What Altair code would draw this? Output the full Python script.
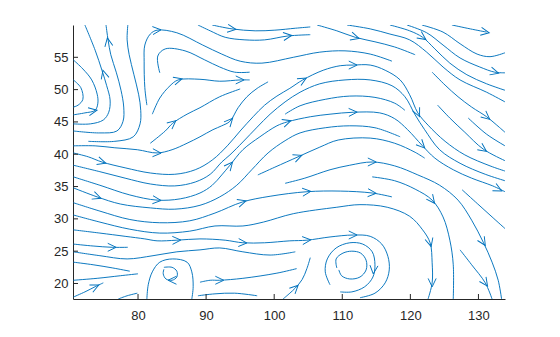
import altair as alt
import pandas as pd

BLUE = "#0072BD"
AXC = "#262626"
X_MIN, X_MAX = 70.45, 133.9
Y_MIN, Y_MAX = 17.6, 60.0
X_TICKS = [80, 90, 100, 110, 120, 130]
Y_TICKS = [20, 25, 30, 35, 40, 45, 50, 55]

# ---- streamlines (longitude x, latitude y) ----
S01_X = [70.5, 71.6, 71.9, 71.2, 70.5]
S01_Y = [51.5, 50.3, 48.5, 47.6, 47.3]
S02_X = [70.5, 72.2, 73.7, 74.1, 74.0, 73.2, 71.9, 70.5]
S02_Y = [46.1, 46.4, 46.8, 47.9, 49.3, 51.5, 53.2, 54.6]
S03_X = [70.5, 73.0, 74.9, 75.7, 75.9, 75.4, 74.7, 73.7, 72.2]
S03_Y = [44.7, 44.7, 45.3, 46.5, 48.4, 50.6, 53.0, 56.1, 60.0]
S04_X = [70.5, 74.4, 76.9, 77.8, 77.9, 77.5, 76.8, 76.0, 75.6, 75.3]
S04_Y = [43.6, 43.3, 43.6, 45.1, 47.3, 49.9, 52.7, 55.4, 57.7, 60.0]
S05_X = [72.7, 76.6, 79.3, 80.3, 80.4, 80.1, 79.4, 78.7, 78.4, 78.5]
S05_Y = [42.0, 42.0, 42.7, 44.7, 46.8, 49.2, 52.3, 55.4, 57.7, 60.0]
S06_X = [81.3, 81.0, 80.9, 81.0, 81.8, 82.8, 85.7, 89.5, 92.3, 95.0, 98.2, 102.8, 106.7, 110.4, 114.1, 117.3]
S06_Y = [47.6, 50.3, 54.3, 56.9, 58.6, 59.2, 58.8, 56.9, 55.5, 54.4, 54.1, 55.0, 55.8, 56.0, 55.5, 54.4]
S07_X = [83.2, 82.9, 84.0, 86.9, 89.8, 92.0, 94.2, 96.4]
S07_Y = [52.6, 55.2, 56.3, 56.0, 54.6, 53.5, 52.7, 52.7]
S08_X = [82.1, 83.2, 84.7, 85.9, 89.1, 92.0, 95.0, 96.4]
S08_Y = [46.2, 48.7, 50.6, 51.5, 51.6, 51.3, 51.5, 51.5]
S09_X = [81.8, 84.0, 85.1, 87.2, 89.1, 92.0, 95.0]
S09_Y = [41.7, 43.6, 44.8, 46.2, 47.2, 48.9, 50.1]
S10_X = [70.5, 73.7, 76.6, 79.9, 82.8, 85.0, 87.2, 89.1, 91.0, 92.3, 93.5, 94.7, 96.0, 97.5, 99.1]
S10_Y = [41.3, 41.3, 41.0, 40.7, 40.2, 40.7, 41.7, 42.7, 43.8, 44.4, 45.1, 47.2, 48.9, 50.2, 51.2]
S11_X = [90.9, 93.8, 97.2, 100.1, 103.1, 105.3]
S11_Y = [60.0, 59.4, 59.1, 59.2, 59.5, 59.7]
S12_X = [88.8, 90.6, 92.8, 95.7, 98.6, 102.0, 105.3]
S12_Y = [60.0, 59.1, 58.1, 57.7, 57.7, 58.3, 58.5]
S13_X = [106.3, 109.2, 111.9, 114.8, 117.7, 120.7]
S13_Y = [60.0, 59.1, 58.1, 57.4, 56.6, 55.4]
S14_X = [110.7, 114.1, 117.0, 119.9, 122.4, 124.8, 127.3, 131.2, 133.9]
S14_Y = [60.0, 59.4, 58.6, 57.7, 55.8, 53.5, 51.5, 49.6, 48.1]
S15_X = [117.0, 119.9, 121.8, 123.6, 125.8, 128.3, 131.2, 133.9]
S15_Y = [60.0, 59.1, 58.1, 56.3, 54.1, 52.3, 50.9, 49.9]
S16_X = [119.5, 122.4, 124.8, 127.3, 130.2, 132.4, 133.9]
S16_Y = [60.0, 58.8, 56.9, 54.9, 53.5, 52.7, 52.6]
S17_X = [121.7, 124.8, 127.3, 129.8, 131.7, 133.9]
S17_Y = [60.0, 58.9, 57.1, 55.5, 55.1, 55.7]
S18_X = [126.1, 128.8, 131.2]
S18_Y = [60.0, 59.4, 58.9]
S19_X = [123.2, 125.1, 127.0, 129.0, 131.2, 132.7, 133.9]
S19_Y = [52.7, 50.7, 48.9, 47.3, 45.8, 44.5, 43.4]
S20_X = [124.0, 125.8, 128.0, 130.7, 133.9]
S20_Y = [47.6, 45.6, 43.4, 40.8, 39.0]
S21_X = [128.5, 131.2, 133.9]
S21_Y = [45.6, 43.1, 41.3]
S22_X = [70.5, 72.7, 74.7, 78.1, 81.8, 85.4, 88.4, 90.9, 93.2, 95.0, 96.9, 98.6, 100.4, 102.3, 104.2, 107.2,
         109.7, 111.6, 114.1, 116.3, 118.5, 119.9, 121.1, 122.6, 125.1, 128.0, 131.7, 133.9]
S22_Y = [40.2, 39.6, 38.8, 37.9, 37.1, 36.9, 37.6, 39.1, 41.4, 43.6, 45.8, 47.6, 49.0, 50.2, 51.5, 53.0,
         53.7, 53.8, 53.8, 53.0, 51.5, 49.2, 46.4, 44.5, 42.0, 39.9, 38.2, 37.4]
S23_X = [70.5, 74.4, 78.1, 81.8, 85.4, 88.4, 90.6, 92.3, 93.5, 95.4, 97.5, 99.4, 101.6, 103.8, 106.7, 110.4,
         114.1, 117.3, 119.2, 120.7, 122.1, 124.3, 127.3, 131.0, 133.9]
S23_Y = [38.3, 37.3, 36.3, 35.4, 35.1, 35.7, 36.9, 38.8, 39.9, 41.9, 44.2, 46.2, 48.1, 49.6, 50.9, 51.5,
         51.5, 50.6, 48.9, 46.1, 43.8, 40.7, 38.6, 36.9, 35.9]
S24_X = [70.5, 74.4, 78.8, 82.8, 86.2, 89.1, 90.9, 92.3, 93.5, 95.4, 97.9, 100.4, 101.9, 105.3, 108.2, 111.6,
         115.5, 117.7, 119.6, 121.7, 123.6, 126.3, 129.0, 132.1, 133.9]
S24_Y = [36.5, 35.2, 33.7, 32.9, 33.1, 34.0, 35.2, 36.8, 38.3, 40.7, 42.7, 44.4, 45.0, 45.8, 46.2, 46.5,
         46.4, 45.5, 43.8, 41.4, 39.4, 37.6, 36.3, 35.1, 34.2]
S25_X = [101.6, 103.8, 107.5, 111.1, 114.8, 117.7, 119.2]
S25_Y = [46.2, 47.5, 48.5, 49.0, 48.8, 47.9, 46.8]
S26_X = [70.5, 74.0, 77.4, 81.8, 85.4, 89.1, 92.0, 94.5, 96.7, 99.1, 101.6, 103.8, 107.5, 111.1, 114.8, 118.5]
S26_Y = [34.8, 33.4, 32.3, 31.7, 31.5, 32.1, 33.4, 35.2, 37.6, 40.2, 42.1, 43.3, 44.1, 44.4, 44.1, 42.7]
S27_X = [97.6, 100.1, 103.5, 106.7, 109.4, 114.1, 117.7, 120.7, 122.1]
S27_Y = [36.8, 38.0, 39.6, 41.1, 42.2, 42.5, 41.7, 40.3, 39.4]
S28_X = [101.6, 104.5, 108.2, 111.1, 114.4, 117.7, 121.1, 124.3, 127.0, 129.0, 130.7, 132.0, 132.9, 133.4]
S28_Y = [35.5, 36.3, 37.6, 38.3, 38.8, 38.2, 36.8, 35.2, 32.9, 29.8, 26.4, 23.3, 20.5, 17.6]
S29_X = [70.5, 74.4, 78.8, 83.2, 87.6, 91.3, 95.3, 99.4, 104.8, 109.7, 114.4, 117.3]
S29_Y = [32.5, 31.2, 29.9, 29.4, 29.7, 30.9, 32.6, 33.5, 34.2, 34.3, 34.0, 33.4]
S30_X = [70.5, 74.4, 78.8, 83.2, 87.6, 91.3, 95.4, 98.4, 102.8, 109.2, 112.6, 116.6, 119.9, 121.8, 122.9,
         123.2, 123.2, 122.6]
S30_Y = [30.6, 29.5, 28.4, 27.8, 28.1, 28.9, 28.9, 29.5, 30.8, 31.8, 32.2, 31.8, 30.4, 28.3, 26.3,
         23.2, 20.1, 17.6]
S31_X = [114.4, 117.7, 120.7, 123.2, 124.8, 125.8, 126.3, 126.3]
S31_Y = [36.5, 35.9, 34.6, 32.9, 30.3, 26.7, 22.9, 17.6]
S32_X = [127.6, 129.9, 132.0, 133.9]
S32_Y = [34.5, 32.3, 30.3, 28.5]
S33_X = [127.3, 129.0, 131.0, 132.0]
S33_Y = [25.2, 22.9, 20.1, 17.6]
S34_X = [70.5, 74.4, 78.1, 81.0, 82.8, 85.7, 89.1, 92.8, 95.4, 98.6, 102.3, 104.8, 108.2, 111.6, 114.1,
         115.8, 116.7, 116.9, 116.3, 114.8, 112.6]
S34_Y = [28.3, 27.8, 27.3, 26.9, 26.6, 26.7, 26.9, 26.7, 26.3, 26.3, 26.6, 26.7, 27.2, 27.5, 27.3,
         26.1, 24.2, 22.1, 20.1, 18.5, 17.8]
S35_X = [70.5, 73.4, 76.2, 78.5]
S35_Y = [26.1, 25.8, 25.6, 25.6]
S36_X = [70.5, 74.4, 78.4, 82.2, 85.7, 89.1, 92.0, 95.4, 99.4, 103.1]
S36_Y = [24.9, 24.3, 23.8, 24.3, 24.9, 25.2, 25.5, 24.9, 24.4, 24.9]
S37_X = [70.5, 73.4, 76.3, 78.8]
S37_Y = [23.3, 22.9, 22.4, 21.9]
S38_X = [70.5, 74.0, 77.4, 80.0]
S38_Y = [20.5, 20.8, 21.2, 21.5]
S39_X = [70.5, 72.2, 73.7, 74.9]
S39_Y = [17.9, 18.7, 19.5, 20.1]
S40_X = [77.1, 78.4, 79.9]
S40_Y = [17.6, 18.1, 18.5]
S41_X = [81.3, 81.5, 82.1, 83.2, 85.1, 87.2, 87.9, 88.1, 87.9]
S41_Y = [17.6, 19.8, 21.8, 23.3, 23.8, 23.3, 21.8, 19.5, 17.6]
S42_X = [83.8, 85.0, 85.7, 85.7, 85.0, 84.1, 83.7, 83.8]
S42_Y = [22.5, 22.5, 21.9, 21.0, 20.5, 20.7, 21.5, 22.2]
S43_X = [88.8, 91.3, 94.2, 97.5]
S43_Y = [18.1, 18.4, 18.5, 18.1]
S44_X = [89.1, 90.6, 92.0, 95.4, 100.4, 103.3]
S44_Y = [20.2, 20.5, 20.5, 20.8, 21.6, 22.3]
S45_X = [101.3, 102.3, 103.1, 104.1, 104.8, 105.3]
S45_Y = [17.6, 18.5, 19.3, 20.6, 22.3, 24.0]
S46_X = [109.2, 109.1, 110.1, 111.4, 112.7, 113.5, 113.5, 112.6, 111.1, 109.9, 109.5]
S46_Y = [22.4, 23.8, 24.7, 25.0, 24.7, 23.6, 22.1, 21.0, 20.7, 21.2, 22.1]
S47_X = [108.2, 107.5, 107.8, 109.1, 111.1, 113.0, 114.4, 114.8, 114.5, 113.3, 111.4, 109.7]
S47_Y = [19.8, 21.8, 23.8, 25.5, 26.3, 26.1, 24.9, 22.9, 21.0, 19.5, 18.7, 18.7]

# ---- arrowheads: position and flow direction (screen degrees, clockwise from east) ----
ARROW_X = [73.4, 75.0, 75.6, 82.8, 85.9, 85.1, 82.8, 74.7, 74.0, 82.8, 93.8, 102.0, 111.9, 95.0, 104.2, 111.6,
           121.8, 131.0, 132.4, 121.1, 93.5, 101.9, 111.6, 93.5, 103.5, 104.8, 95.3, 131.2, 121.7, 130.7, 114.4,
           132.9, 114.4, 123.2, 76.2, 85.7, 73.7, 85.0, 95.4, 104.8, 111.6, 92.0, 103.1, 122.9, 114.6, 123.2,
           130.7, 131.0]
ARROW_Y = [46.7, 52.4, 57.4, 59.2, 51.5, 44.8, 40.2, 38.8, 33.4, 32.9, 59.4, 58.3, 58.1, 51.5, 51.5, 53.8,
           58.1, 58.9, 52.7, 46.4, 45.1, 45.0, 46.5, 38.3, 39.6, 34.2, 32.6, 45.8, 41.4, 40.8, 38.8,
           34.6, 34.0, 32.9, 25.6, 26.7, 19.5, 20.5, 26.3, 26.7, 27.5, 20.5, 19.3, 26.3, 22.1, 20.1,
           26.4, 20.1]
ARROW_DIR = [350, 255, 260, 355, 345, 320, 3, 17, 20, 5, 8, 353, 16, 0, 330, 0,
             35, 10, 15, 65, 312, 342, 358, 310, 338, 354, 343, 40, 46, 35, 0,
             27, 4, 52, 0, 358, 335, 180, 3, 355, 0, 0, 315, 75, 95, 90,
             58, 55]

STREAMS = [
    (S01_X, S01_Y), (S02_X, S02_Y), (S03_X, S03_Y), (S04_X, S04_Y), (S05_X, S05_Y), (S06_X, S06_Y),
    (S07_X, S07_Y), (S08_X, S08_Y), (S09_X, S09_Y), (S10_X, S10_Y), (S11_X, S11_Y), (S12_X, S12_Y),
    (S13_X, S13_Y), (S14_X, S14_Y), (S15_X, S15_Y), (S16_X, S16_Y), (S17_X, S17_Y), (S18_X, S18_Y),
    (S19_X, S19_Y), (S20_X, S20_Y), (S21_X, S21_Y), (S22_X, S22_Y), (S23_X, S23_Y), (S24_X, S24_Y),
    (S25_X, S25_Y), (S26_X, S26_Y), (S27_X, S27_Y), (S28_X, S28_Y), (S29_X, S29_Y), (S30_X, S30_Y),
    (S31_X, S31_Y), (S32_X, S32_Y), (S33_X, S33_Y), (S34_X, S34_Y), (S35_X, S35_Y), (S36_X, S36_Y),
    (S37_X, S37_Y), (S38_X, S38_Y), (S39_X, S39_Y), (S40_X, S40_Y), (S41_X, S41_Y), (S42_X, S42_Y),
    (S43_X, S43_Y), (S44_X, S44_Y), (S45_X, S45_Y), (S46_X, S46_Y), (S47_X, S47_Y),
]

rows = []
for k, (xs, ys) in enumerate(STREAMS):
    for i, (x, y) in enumerate(zip(xs, ys)):
        rows.append({"line": k, "i": i, "x": x, "y": y})
lines_df = pd.DataFrame(rows)
arrows_df = pd.DataFrame({"x": ARROW_X, "y": ARROW_Y, "a": ARROW_DIR})
xt_df = pd.DataFrame({"x": X_TICKS})
yt_df = pd.DataFrame({"y": Y_TICKS})

xscale = alt.Scale(domain=[X_MIN, X_MAX], nice=False, zero=False)
yscale = alt.Scale(domain=[Y_MIN, Y_MAX], nice=False, zero=False)

x_axis = alt.Axis(values=X_TICKS, title="", grid=False, ticks=False, tickSize=0, labelPadding=10,
                  domainColor=AXC, domainWidth=1, labelColor=AXC, labelFontSize=13,
                  labelFont="Liberation Sans", format="d")
y_axis = alt.Axis(values=Y_TICKS, title="", grid=False, ticks=False, tickSize=0, labelPadding=5,
                  domainColor=AXC, domainWidth=1, labelColor=AXC, labelFontSize=13,
                  labelFont="Liberation Sans", format="d")

X_ENC = alt.X("x:Q", scale=xscale, axis=x_axis)
Y_ENC = alt.Y("y:Q", scale=yscale, axis=y_axis)

streams = alt.Chart(lines_df).mark_line(
    interpolate="catmull-rom", strokeWidth=0.95, color=BLUE, clip=True
).encode(x=X_ENC, y=Y_ENC, detail="line:N", order="i:Q")

arrows = alt.Chart(arrows_df).mark_point(
    shape="M-1.1,-1L1,0L-1.1,1", filled=False, size=64, strokeWidth=0.95, color=BLUE, opacity=1
).encode(x=X_ENC, y=Y_ENC, angle=alt.Angle("a:Q", scale=None))

xticks = alt.Chart(xt_df).mark_rule(color=AXC, strokeWidth=1).encode(
    x=X_ENC, y=alt.value(274), y2=alt.value(269)
)
yticks = alt.Chart(yt_df).mark_rule(color=AXC, strokeWidth=1).encode(
    y=Y_ENC, x=alt.value(0), x2=alt.value(5)
)

chart = alt.layer(streams, arrows, xticks, yticks).properties(
    width=432, height=274,
    autosize=alt.AutoSizeParams(type="none"),
    padding={"left": 73, "top": 25, "right": 55, "bottom": 38},
    background="white",
).configure_view(stroke=None)

chart.save("out.html", embed_options={"renderer": "svg", "actions": False})
